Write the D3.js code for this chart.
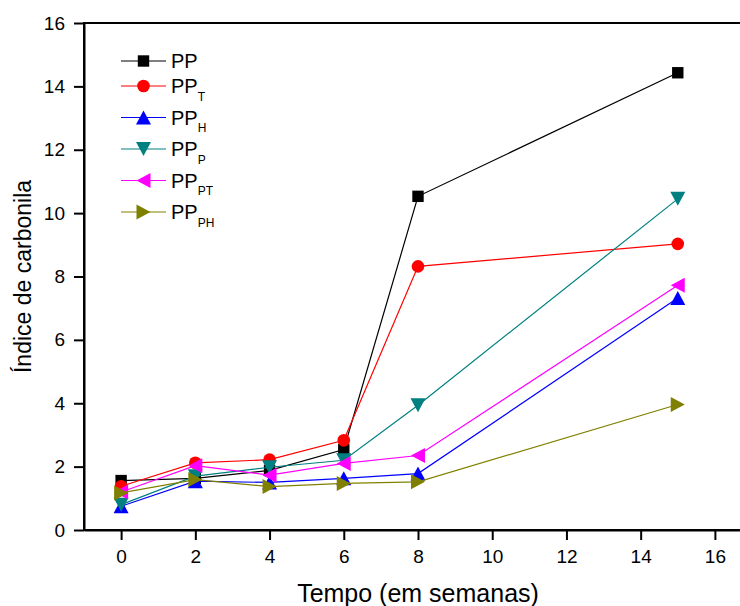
<!DOCTYPE html>
<html>
<head>
<meta charset="utf-8">
<script src="https://cdn.jsdelivr.net/npm/d3@7"></script>
<style>
  body { margin: 0; background: #fff; }
  svg { display: block; font-family: "Liberation Sans", Arial, sans-serif; }
</style>
</head>
<body>
<svg id="canvas" width="740" height="606"></svg>
<script>
const weeks = [0, 2, 4, 6, 8, 15];

const seriesNames = ["PP", "PP_T", "PP_H", "PP_P", "PP_PT", "PP_PH"];
const subscripts = ["", "T", "H", "P", "PT", "PH"];

const pp = [1.56, 1.63, 1.88, 2.54, 10.53, 14.43];
const ppT = [1.38, 2.12, 2.22, 2.83, 8.32, 9.03];
const ppH = [0.75, 1.54, 1.50, 1.63, 1.78, 7.32];
const ppP = [0.80, 1.70, 1.98, 2.20, 3.94, 10.45];
const ppPT = [1.20, 2.03, 1.73, 2.10, 2.35, 7.72];
const ppPH = [1.17, 1.59, 1.37, 1.47, 1.52, 3.96];

const xTicks = [0, 2, 4, 6, 8, 10, 12, 14, 16];
const yTicks = [0, 2, 4, 6, 8, 10, 12, 14, 16];

const colors = ["#000000", "#ff0000", "#0000ff", "#008080", "#ff00ff", "#808000"];
const markers = ["square", "circle", "up", "down", "left", "right"];

const values = [pp, ppT, ppH, ppP, ppPT, ppPH];

const svg = d3.select("#canvas");

const plotLeft = 84, plotRight = 752, plotTop = 23, plotBottom = 530;

const x = d3.scaleLinear().domain([-1, 17]).range([plotLeft, plotRight]);
const y = d3.scaleLinear().domain([0, 16]).range([plotBottom, plotTop]);

// triangles, bbox centred on the point
const triangle = (dir) => ({
  draw(ctx, size) {
    const w = 7.5, h = 7;
    const pts = {
      up: [[0, -h], [w, h], [-w, h]],
      down: [[0, h], [w, -h], [-w, -h]],
      left: [[-h, 0], [h, -w], [h, w]],
      right: [[h, 0], [-h, -w], [-h, w]]
    }[dir];
    ctx.moveTo(pts[0][0], pts[0][1]);
    ctx.lineTo(pts[1][0], pts[1][1]);
    ctx.lineTo(pts[2][0], pts[2][1]);
    ctx.closePath();
  }
});

const symbolFor = (m) => {
  if (m === "square") return d3.symbol(d3.symbolSquare, 130)();
  if (m === "circle") return d3.symbol(d3.symbolCircle, 125)();
  return d3.symbol(triangle(m))();
};

// frame
svg.append("rect")
  .attr("x", plotLeft).attr("y", plotTop)
  .attr("width", plotRight - plotLeft).attr("height", plotBottom - plotTop)
  .attr("fill", "none").attr("stroke", "#000").attr("stroke-width", 2);

const xAxis = svg.append("g")
  .attr("transform", `translate(0,${plotBottom})`)
  .call(d3.axisBottom(x).tickValues(xTicks).tickSize(10).tickSizeOuter(0).tickPadding(10));

const yAxis = svg.append("g")
  .attr("transform", `translate(${plotLeft},0)`)
  .call(d3.axisLeft(y).tickValues(yTicks).tickSize(10).tickSizeOuter(0).tickPadding(9));

[xAxis, yAxis].forEach(g => {
  g.select(".domain").attr("stroke-width", 2);
  g.selectAll(".tick line").attr("stroke-width", 2);
  g.selectAll(".tick text")
    .attr("font-size", 19)
    .attr("font-family", "Liberation Sans, Arial, sans-serif")
    .attr("fill", "#000");
});

// series
const line = d3.line().x((d, i) => x(weeks[i])).y(d => y(d));

values.forEach((vals, s) => {
  const g = svg.append("g");
  g.append("path")
    .attr("d", line(vals))
    .attr("fill", "none")
    .attr("stroke", colors[s])
    .attr("stroke-width", 1.2);
  g.selectAll("path.m")
    .data(vals)
    .join("path")
    .attr("class", "m")
    .attr("d", symbolFor(markers[s]))
    .attr("transform", (d, i) => `translate(${x(weeks[i])},${y(d)})`)
    .attr("fill", colors[s]);
});

// legend
const legendRows = [61, 86, 117.5, 149, 180.5, 212];
const legend = svg.append("g");
seriesNames.forEach((name, s) => {
  const ly = legendRows[s];
  const row = legend.append("g").attr("transform", `translate(0,${ly})`);
  row.append("line")
    .attr("x1", 121).attr("x2", 166)
    .attr("stroke", colors[s]).attr("stroke-width", 1.2);
  row.append("path")
    .attr("d", symbolFor(markers[s]))
    .attr("transform", "translate(143.5,0)")
    .attr("fill", colors[s]);
  const t = row.append("text")
    .attr("x", 171).attr("y", 7)
    .attr("font-size", 20)
    .attr("fill", "#000")
    .text("PP");
  if (subscripts[s]) {
    t.append("tspan")
      .attr("font-size", 12)
      .attr("dy", 7.5)
      .text(subscripts[s]);
  }
});

// axis titles
svg.append("text")
  .attr("x", (plotLeft + plotRight) / 2)
  .attr("y", 602)
  .attr("text-anchor", "middle")
  .attr("font-size", 25)
  .attr("fill", "#000")
  .text("Tempo (em semanas)");

svg.append("text")
  .attr("transform", `translate(31,${(plotTop + plotBottom) / 2}) rotate(-90)`)
  .attr("text-anchor", "middle")
  .attr("font-size", 23)
  .attr("fill", "#000")
  .text("Índice de carbonila");
</script>
</body>
</html>
